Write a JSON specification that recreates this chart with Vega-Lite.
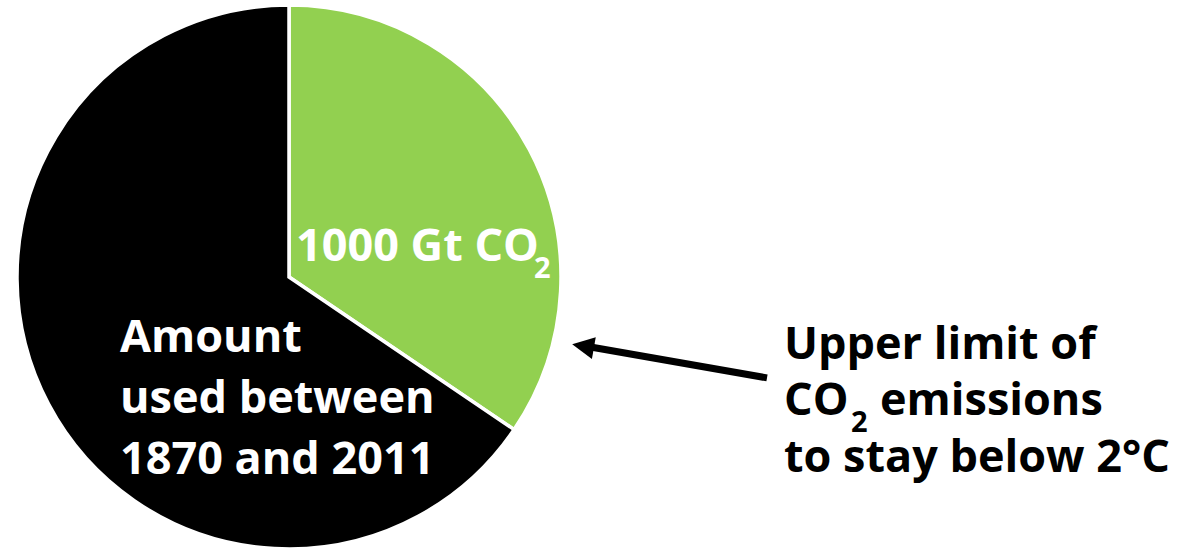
{
  "$schema": "https://vega.github.io/schema/vega-lite/v6.json",
  "width": 1186,
  "height": 553,
  "autosize": {"type": "fit", "contains": "padding"},
  "padding": 0,
  "background": "white",
  "config": {"view": {"stroke": null}},
  "datasets": {
    "slices": [
      {"category": "Remaining budget (1000 Gt CO2)", "value": 1000, "order": 1},
      {"category": "Amount used between 1870 and 2011", "value": 1900, "order": 2}
    ],
    "labels": [
      {"text": "1000 Gt CO", "x": 296, "y": 264, "group": "pie"},
      {"text": "Amount", "x": 120, "y": 356, "group": "pie"},
      {"text": "used between", "x": 120, "y": 418, "group": "pie"},
      {"text": "1870 and 2011", "x": 120, "y": 479, "group": "pie"},
      {"text": "Upper limit of", "x": 784, "y": 363, "group": "side"},
      {"text": "CO", "x": 784, "y": 420, "group": "side"},
      {"text": "emissions", "x": 880, "y": 420, "group": "side"},
      {"text": "to stay below 2°C", "x": 784, "y": 477, "group": "side"}
    ],
    "subs": [
      {"text": "2", "x": 534, "y": 281, "group": "pie"},
      {"text": "2", "x": 851, "y": 437, "group": "side"}
    ],
    "arrow": [{"x": 767, "y": 382, "x2": 592, "y2": 351}],
    "head": [{"x": 583, "y": 350}]
  },
  "layer": [
    {
      "data": {"name": "slices"},
      "mark": {"type": "arc", "radius": 272, "stroke": "white", "strokeWidth": 3.5},
      "encoding": {
        "theta": {"field": "value", "type": "quantitative", "stack": true},
        "order": {"field": "order", "type": "quantitative"},
        "color": {"field": "category", "type": "nominal", "scale": {"domain": ["Remaining budget (1000 Gt CO2)", "Amount used between 1870 and 2011"], "range": ["#92D050", "#000000"]}, "legend": null},
        "x": {"datum": 289, "type": "quantitative", "scale": {"domain": [0, 1186], "nice": false, "zero": false}, "axis": null},
        "y": {"datum": 280, "type": "quantitative", "scale": {"domain": [0, 553], "nice": false, "zero": false, "reverse": true}, "axis": null}
      }
    },
    {
      "data": {"name": "arrow"},
      "mark": {"type": "rule", "color": "black", "strokeWidth": 7},
      "encoding": {
        "x": {"field": "x", "type": "quantitative"},
        "y": {"field": "y", "type": "quantitative"},
        "x2": {"field": "x2"},
        "y2": {"field": "y2"}
      }
    },
    {
      "data": {"name": "head"},
      "mark": {"type": "point", "shape": "M -1 0 L 1 -1 L 1 1 Z", "filled": true, "color": "black", "opacity": 1, "size": 484, "angle": 10, "strokeWidth": 0},
      "encoding": {
        "x": {"field": "x", "type": "quantitative"},
        "y": {"field": "y", "type": "quantitative"}
      }
    },
    {
      "data": {"name": "labels"},
      "transform": [{"filter": "datum.group === 'pie'"}],
      "mark": {"type": "text", "font": "Open Sans", "fontWeight": "bold", "fontSize": 45, "color": "white", "align": "left", "baseline": "alphabetic"},
      "encoding": {
        "x": {"field": "x", "type": "quantitative"},
        "y": {"field": "y", "type": "quantitative"},
        "text": {"field": "text"}
      }
    },
    {
      "data": {"name": "labels"},
      "transform": [{"filter": "datum.group === 'side'"}],
      "mark": {"type": "text", "font": "Open Sans", "fontWeight": "bold", "fontSize": 45, "color": "black", "align": "left", "baseline": "alphabetic"},
      "encoding": {
        "x": {"field": "x", "type": "quantitative"},
        "y": {"field": "y", "type": "quantitative"},
        "text": {"field": "text"}
      }
    },
    {
      "data": {"name": "subs"},
      "transform": [{"filter": "datum.group === 'pie'"}],
      "mark": {"type": "text", "font": "Open Sans", "fontWeight": "bold", "fontSize": 29, "color": "white", "align": "left", "baseline": "alphabetic"},
      "encoding": {
        "x": {"field": "x", "type": "quantitative"},
        "y": {"field": "y", "type": "quantitative"},
        "text": {"field": "text"}
      }
    },
    {
      "data": {"name": "subs"},
      "transform": [{"filter": "datum.group === 'side'"}],
      "mark": {"type": "text", "font": "Open Sans", "fontWeight": "bold", "fontSize": 29, "color": "black", "align": "left", "baseline": "alphabetic"},
      "encoding": {
        "x": {"field": "x", "type": "quantitative"},
        "y": {"field": "y", "type": "quantitative"},
        "text": {"field": "text"}
      }
    }
  ]
}
